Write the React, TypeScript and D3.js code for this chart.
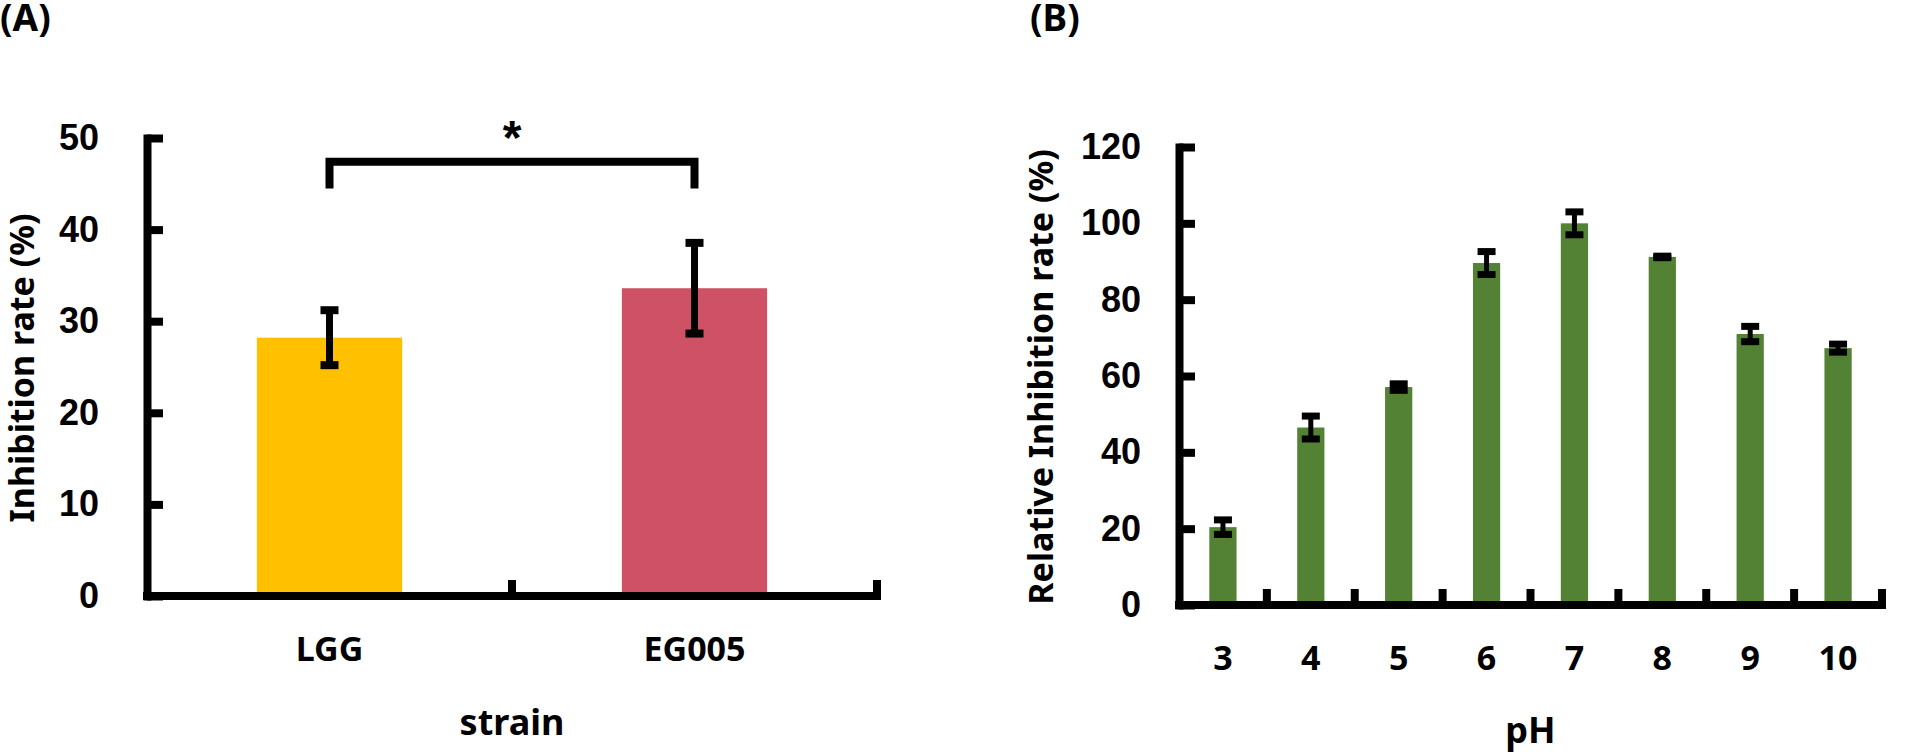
import * as d3 from "d3";
import React, { RefObject, useEffect, useRef } from "react";

// panel A: inhibition rate per strain
const strains = ["LGG", "EG005"];
const strainMeans = [28.2, 33.6];
const strainErrors = [3.0, 4.95];
const strainColors = ["#FFC000", "#CF5166"];
const strainTicks = [0, 10, 20, 30, 40, 50];
const sigBracket = [47.4, 44.5]; // bracket top, leg bottom (data units)

// panel B: relative inhibition rate per pH
const phLevels = ["3", "4", "5", "6", "7", "8", "9", "10"];
const phMeans = [20.4, 46.5, 57.1, 89.6, 100.0, 91.2, 71.0, 67.3];
const phErrors = [1.9, 3.0, 0.85, 3.0, 3.0, 0.2, 2.0, 1.05];
const phColors = ["#548235"];
const phTicks = [0, 20, 40, 60, 80, 100, 120];

const LABEL_FONT = "'Noto Sans', 'Open Sans', sans-serif";
const NUM_FONT = "'Liberation Sans', Arial, sans-serif";

interface IPanel {
  cats: string[];
  means: number[];
  errs: number[];
  colors: string[];
  ticks: number[];
  yMax: number;
  left: number;
  right: number;
  top: number;
  bottom: number;
  barFrac: number;
  capW: number;
  stemW: number;
  capT: number;
  labelGap: number;
  xLabelY: number;
  xTitle: string;
  xTitleY: number;
  yTitle: string;
  yTitleX: number;
  yTitleY: number;
  panel: string;
  panelX: number;
}

const drawPanel = (root: any, p: IPanel) => {
  const x = d3.scaleBand<string>().domain(p.cats).range([p.left, p.right]);
  const y = d3.scaleLinear().domain([0, p.yMax]).range([p.bottom, p.top]);
  const bw = x.bandwidth();
  const barW = bw * p.barFrac;
  const cx = (d: string) => (x(d) as number) + bw / 2;
  const g = root.append("g");

  g.selectAll("rect.bar")
    .data(p.cats)
    .enter()
    .append("rect")
    .attr("class", "bar")
    .attr("x", (d: string) => cx(d) - barW / 2)
    .attr("y", (d: string, i: number) => y(p.means[i]))
    .attr("width", barW)
    .attr("height", (d: string, i: number) => p.bottom - y(p.means[i]))
    .attr("fill", (d: string, i: number) => p.colors[i % p.colors.length]);

  // error bars
  const eb = g.selectAll("g.err").data(p.cats).enter().append("g").attr("class", "err");
  eb.append("line")
    .attr("x1", cx).attr("x2", cx)
    .attr("y1", (d: string, i: number) => y(p.means[i] - p.errs[i]))
    .attr("y2", (d: string, i: number) => y(p.means[i] + p.errs[i]))
    .attr("stroke", "#000")
    .attr("stroke-width", p.stemW);
  [-1, 1].forEach((s) => {
    eb.append("line")
      .attr("x1", (d: string) => cx(d) - p.capW / 2)
      .attr("x2", (d: string) => cx(d) + p.capW / 2)
      .attr("y1", (d: string, i: number) => y(p.means[i] + s * p.errs[i]))
      .attr("y2", (d: string, i: number) => y(p.means[i] + s * p.errs[i]))
      .attr("stroke", "#000")
      .attr("stroke-width", p.capT);
  });

  // y axis, ticks pointing inward
  const ya = g
    .append("g")
    .attr("transform", `translate(${p.left},0)`)
    .call(
      d3.axisLeft(y)
        .tickValues(p.ticks)
        .tickSizeInner(-16)
        .tickSizeOuter(0)
        .tickPadding(p.labelGap)
        .tickFormat((d: any) => String(d))
    );
  ya.select(".domain").attr("stroke", "#000").attr("stroke-width", 8).attr("stroke-linecap", "square");
  ya.selectAll(".tick line").attr("stroke", "#000").attr("stroke-width", 8);
  ya.selectAll(".tick text")
    .attr("font-family", NUM_FONT)
    .attr("font-weight", "bold")
    .attr("font-size", 36)
    .attr("fill", "#000");

  // x axis with ticks at category boundaries
  g.append("line")
    .attr("x1", p.left).attr("x2", p.right)
    .attr("y1", p.bottom).attr("y2", p.bottom)
    .attr("stroke", "#000")
    .attr("stroke-width", 8)
    .attr("stroke-linecap", "square");
  const bounds = p.cats.slice(1).map((c) => x(c) as number).concat([p.right]);
  g.selectAll("line.xtick")
    .data(bounds)
    .enter()
    .append("line")
    .attr("class", "xtick")
    .attr("x1", (d: number) => d).attr("x2", (d: number) => d)
    .attr("y1", p.bottom).attr("y2", p.bottom - 16)
    .attr("stroke", "#000")
    .attr("stroke-width", 8);

  g.selectAll("text.xlab")
    .data(p.cats)
    .enter()
    .append("text")
    .attr("class", "xlab")
    .attr("x", cx)
    .attr("y", p.xLabelY)
    .attr("text-anchor", "middle")
    .attr("font-family", LABEL_FONT)
    .attr("font-weight", "bold")
    .attr("font-size", 34)
    .text((d: string) => d);

  g.append("text")
    .attr("x", (p.left + p.right) / 2)
    .attr("y", p.xTitleY)
    .attr("text-anchor", "middle")
    .attr("font-family", LABEL_FONT)
    .attr("font-weight", "bold")
    .attr("font-size", 36)
    .text(p.xTitle);

  g.append("text")
    .attr("transform", `translate(${p.yTitleX},${p.yTitleY}) rotate(-90)`)
    .attr("text-anchor", "middle")
    .attr("font-family", LABEL_FONT)
    .attr("font-weight", "bold")
    .attr("font-size", 34)
    .text(p.yTitle);

  g.append("text")
    .attr("x", p.panelX)
    .attr("y", 31)
    .attr("font-family", LABEL_FONT)
    .attr("font-weight", "bold")
    .attr("font-size", 37)
    .text(p.panel);

  return { x, y, cx };
};

const App = () => {
  const ref: RefObject<HTMLDivElement> = useRef(null);

  useEffect(() => {
    document.body.style.margin = "0";
    d3.select(ref.current).selectAll("*").remove();
    const svg = d3
      .select(ref.current)
      .append("svg")
      .attr("width", 1905)
      .attr("height", 755)
      .style("display", "block")
      .style("background", "#fff");

    const a = drawPanel(svg, {
      cats: strains,
      means: strainMeans,
      errs: strainErrors,
      colors: strainColors,
      ticks: strainTicks,
      yMax: 50,
      left: 147,
      right: 877,
      top: 138,
      bottom: 596,
      barFrac: 0.398,
      capW: 18,
      stemW: 7,
      capT: 8,
      labelGap: 48,
      xLabelY: 661,
      xTitle: "strain",
      xTitleY: 735,
      yTitle: "Inhibition rate (%)",
      yTitleX: 34,
      yTitleY: 368,
      panel: "(A)",
      panelX: 0
    });

    // significance bracket between the two strains
    const bx0 = a.cx(strains[0]);
    const bx1 = a.cx(strains[1]);
    const by = a.y(sigBracket[0]);
    const bl = a.y(sigBracket[1]);
    svg.append("path")
      .attr("d", `M${bx0},${bl}V${by}H${bx1}V${bl}`)
      .attr("fill", "none")
      .attr("stroke", "#000")
      .attr("stroke-width", 8)
      .attr("stroke-linejoin", "miter");
    svg.append("text")
      .attr("x", (bx0 + bx1) / 2)
      .attr("y", by - 8)
      .attr("text-anchor", "middle")
      .attr("font-family", NUM_FONT)
      .attr("font-weight", "bold")
      .attr("font-size", 48)
      .text("*");

    drawPanel(svg, {
      cats: phLevels,
      means: phMeans,
      errs: phErrors,
      colors: phColors,
      ticks: phTicks,
      yMax: 120,
      left: 1179,
      right: 1882,
      top: 147,
      bottom: 605,
      barFrac: 0.31,
      capW: 18,
      stemW: 5,
      capT: 7,
      labelGap: 38,
      xLabelY: 670,
      xTitle: "pH",
      xTitleY: 743,
      yTitle: "Relative Inhibition rate (%)",
      yTitleX: 1053,
      yTitleY: 377,
      panel: "(B)",
      panelX: 1030
    });
  }, [ref]);

  return <div ref={ref} />;
};

export default App;
